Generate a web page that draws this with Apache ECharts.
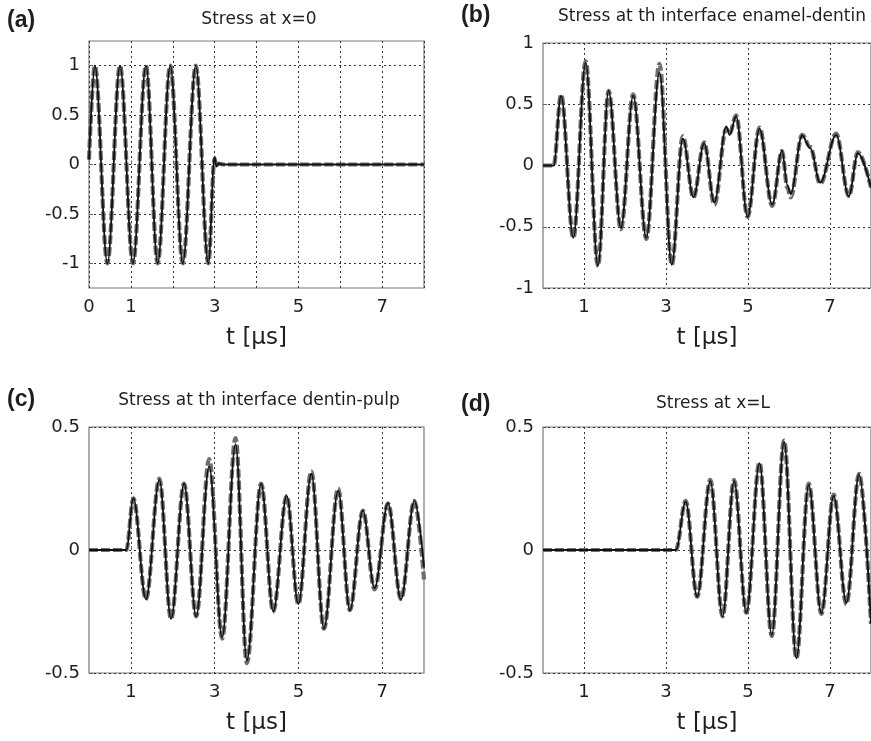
<!DOCTYPE html>
<html>
<head>
<meta charset="utf-8">
<script src="https://cdn.jsdelivr.net/npm/echarts@6/dist/echarts.min.js"></script>
<style>html,body{margin:0;padding:0;background:#fff}#c{width:871px;height:741px}</style>
</head>
<body>
<div id="c"></div>
<script>
// ---- data (t in µs, stress normalised) ----
// Panel (a) Stress at x=0
const aTime  = [0, 0.14, 0.44, 0.74, 1.05, 1.36, 1.64, 1.94, 2.24, 2.55, 2.85, 3.0, 3.04, 3.1, 3.2, 8.0];
const aModel = [0.05, 1, -1, 1, -1, 1, -1, 1, -1, 1, -1, 0.08, -0.02, 0.01, 0, 0];
const aSim   = [0.05, 1, -1, 1, -1, 1, -1, 1, -1, 1, -1, 0.06, -0.01, 0.01, 0, 0];

// Panel (b) Stress at the interface enamel-dentin
const bTime  = [0, 0.26, 0.44, 0.74, 1.04, 1.34, 1.6, 1.9, 2.2, 2.52, 2.84, 3.14, 3.41, 3.67, 3.93, 4.18, 4.47, 4.55, 4.71, 4.99, 5.28, 5.59, 5.83, 5.96, 6.04, 6.32, 6.52, 6.76, 7.15, 7.46, 7.68, 8.0];
const bModel = [0, 0, 0.57, -0.59, 0.84, -0.82, 0.61, -0.51, 0.57, -0.59, 0.76, -0.81, 0.22, -0.26, 0.18, -0.30, 0.32, 0.25, 0.40, -0.42, 0.30, -0.32, 0.12, -0.16, -0.23, 0.245, 0.14, -0.14, 0.25, -0.25, 0.10, -0.18];
const bSim   = [0, 0, 0.58, -0.59, 0.85, -0.82, 0.61, -0.52, 0.58, -0.60, 0.83, -0.81, 0.24, -0.26, 0.19, -0.32, 0.30, 0.26, 0.41, -0.42, 0.31, -0.33, 0.12, -0.18, -0.26, 0.25, 0.15, -0.15, 0.26, -0.25, 0.11, -0.18];

// Panel (c) Stress at the interface dentin-pulp
const cTime  = [0, 0.89, 1.06, 1.36, 1.68, 1.96, 2.27, 2.56, 2.87, 3.18, 3.5, 3.77, 4.11, 4.4, 4.72, 5.0, 5.31, 5.61, 5.95, 6.23, 6.54, 6.82, 7.14, 7.45, 7.77, 8.0];
const cModel = [0, 0, 0.21, -0.20, 0.285, -0.28, 0.27, -0.27, 0.34, -0.355, 0.43, -0.45, 0.27, -0.25, 0.22, -0.22, 0.31, -0.32, 0.24, -0.245, 0.16, -0.155, 0.19, -0.20, 0.20, -0.07];
const cSim   = [0, 0, 0.21, -0.20, 0.29, -0.28, 0.27, -0.27, 0.37, -0.36, 0.455, -0.46, 0.27, -0.25, 0.22, -0.22, 0.32, -0.32, 0.25, -0.245, 0.16, -0.16, 0.19, -0.20, 0.20, -0.12];

// Panel (d) Stress at x=L
const dTime  = [0, 3.24, 3.48, 3.76, 4.08, 4.38, 4.66, 4.96, 5.28, 5.58, 5.88, 6.18, 6.48, 6.79, 7.09, 7.40, 7.71, 8.0];
const dModel = [0, 0, 0.197, -0.19, 0.28, -0.27, 0.28, -0.255, 0.353, -0.346, 0.44, -0.44, 0.265, -0.257, 0.22, -0.215, 0.307, -0.3];
const dSim   = [0, 0, 0.20, -0.19, 0.285, -0.27, 0.285, -0.255, 0.355, -0.35, 0.445, -0.44, 0.27, -0.26, 0.225, -0.22, 0.31, -0.3];

// tick labels
const xTicksA = [0, 1, 3, 5, 7];
const xTicksOdd = [1, 3, 5, 7];
const yTicksA = [-1, -0.5, 0, 0.5, 1];
const panelLetters = ['(a)', '(b)', '(c)', '(d)'];
const panelTitles = ['Stress at x=0', 'Stress at th interface enamel-dentin', 'Stress at th interface dentin-pulp', 'Stress at x=L'];
const xName = 't [\u03bcs]';

// ---- chart ----
const FONT = '"DejaVu Sans", Verdana, sans-serif';
const TXT = '#1e1e1e';
const chart = echarts.init(document.getElementById('c'), null, {renderer: 'canvas'});

const grids = [
  {left: 89,  top: 41,  width: 335, height: 247},
  {left: 543, top: 43,  width: 334, height: 245},
  {left: 89,  top: 427, width: 335, height: 246},
  {left: 543, top: 427, width: 334, height: 246}
].map(g => Object.assign(g, {show: true, borderColor: '#7a7a7a', borderWidth: 1.2, backgroundColor: 'transparent'}));

const split = {show: true, lineStyle: {type: [2, 3], color: '#333', width: 1}};
const tick = {show: true, inside: true, length: 4, lineStyle: {color: '#666'}};
const lbl = {fontSize: 18, color: TXT, fontFamily: FONT, margin: 10, formatter: v => String(v)};

function xAxis(i, ticks, allTicks) {
  const ax = {
    gridIndex: i, type: 'value', min: 0, max: 8,
    axisLine: {show: false},
    splitLine: split,
    axisLabel: Object.assign({}, lbl, {customValues: ticks}),
    axisTick: allTicks ? Object.assign({}, tick) : Object.assign({}, tick, {customValues: ticks}),
    name: xName, nameLocation: 'middle', nameGap: 39,
    nameTextStyle: {fontSize: 23, color: TXT, fontFamily: FONT}
  };
  if (allTicks) ax.interval = 1;
  return ax;
}
const xAxes = [xAxis(0, xTicksA, true), xAxis(1, xTicksOdd, false), xAxis(2, xTicksOdd, false), xAxis(3, xTicksOdd, false)];

const yAxes = [
  {gridIndex: 0, type: 'value', min: -1.25, max: 1.25,
   axisLine: {show: false}, splitLine: split,
   axisTick: Object.assign({}, tick, {customValues: yTicksA}),
   axisLabel: Object.assign({}, lbl, {customValues: yTicksA, margin: 9})},
  {gridIndex: 1, type: 'value', min: -1, max: 1, interval: 0.5,
   axisLine: {show: false}, splitLine: split, axisTick: tick,
   axisLabel: Object.assign({}, lbl, {margin: 9})},
  {gridIndex: 2, type: 'value', min: -0.5, max: 0.5, interval: 0.5,
   axisLine: {show: false}, splitLine: split, axisTick: tick,
   axisLabel: Object.assign({}, lbl, {margin: 9})},
  {gridIndex: 3, type: 'value', min: -0.5, max: 0.5, interval: 0.5,
   axisLine: {show: false}, splitLine: split, axisTick: tick,
   axisLabel: Object.assign({}, lbl, {margin: 9})}
];

const panels = [[aTime, aModel, aSim], [bTime, bModel, bSim], [cTime, cModel, cSim], [dTime, dModel, dSim]];
const series = [];
panels.forEach(([t, m, s], i) => {
  series.push({
    type: 'line', name: 'simulation', xAxisIndex: i, yAxisIndex: i,
    data: t.map((x, k) => [x, s[k]]), showSymbol: false, smooth: 0.36, smoothMonotone: 'x',
    lineStyle: {color: '#6e6e6e', width: 4.2, type: [9, 3]}, z: 2
  });
  series.push({
    type: 'line', name: 'model', xAxisIndex: i, yAxisIndex: i,
    data: t.map((x, k) => [x, m[k]]), showSymbol: false, smooth: 0.36, smoothMonotone: 'x',
    lineStyle: {color: '#111', width: 1.8}, z: 3
  });
});

const letterPos = [[7, 21], [461, 16], [7, 400], [461, 405]];
const titlePos = [[259, 20], [712, 17], [259, 401], [713, 404]];
const graphic = [];
panelLetters.forEach((t, i) => graphic.push({
  type: 'text', x: letterPos[i][0], y: letterPos[i][1],
  style: {text: t, font: 'bold 23px "Liberation Sans", Arial, sans-serif', fill: TXT, align: 'left', verticalAlign: 'middle'}
}));
panelTitles.forEach((t, i) => graphic.push({
  type: 'text', x: titlePos[i][0], y: titlePos[i][1],
  style: {text: t, font: '17px ' + FONT, fill: TXT, align: 'center', verticalAlign: 'middle'}
}));

chart.setOption({
  animation: false,
  backgroundColor: '#fff',
  grid: grids,
  xAxis: xAxes,
  yAxis: yAxes,
  series: series,
  graphic: graphic
});
</script>
</body>
</html>
